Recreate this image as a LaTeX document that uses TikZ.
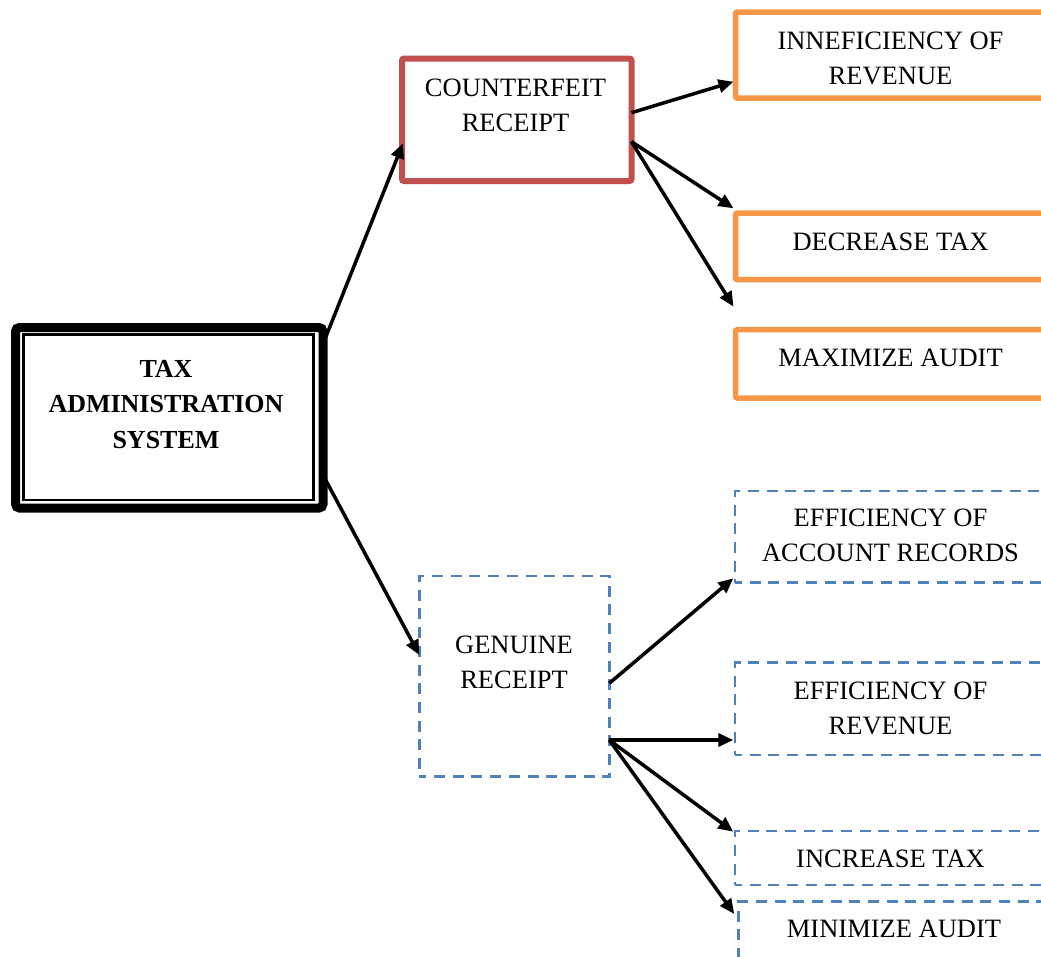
\documentclass[tikz,border=0pt]{standalone}
\usepackage{fontspec}
\setmainfont{Liberation Serif}
\usetikzlibrary{arrows.meta}
\definecolor{cfred}{HTML}{C0504D}
\definecolor{orng}{HTML}{F79646}
\definecolor{blu}{HTML}{4F81BD}
\newcommand{\twolines}[2]{\begin{tabular}[t]{@{}c@{}}#1\\#2\end{tabular}}
\begin{document}
\begin{tikzpicture}[x=1pt,y=1pt,
  box/.style={draw,rectangle,inner sep=0pt,outer sep=0pt},
  mainbox/.style={box,line width=9pt,rounded corners=4pt},
  redbox/.style={box,draw=cfred,line width=6pt,rounded corners=2pt},
  orbox/.style={box,draw=orng,line width=5.5pt,rounded corners=2pt,minimum width=309.5pt},
  bluebox/.style={box,draw=blu,line width=2.7pt,dash pattern=on 11pt off 7.7pt,dash phase=4pt},
  lbl/.style={anchor=base,inner sep=0pt,font=\fontsize{26.5}{35}\selectfont},
  arr/.style={line width=3.5pt,-{Triangle[length=15pt,width=13pt]}}
]
\path[use as bounding box] (0,0) rectangle (1041,-956);
\clip (0,0) rectangle (1041,-956);
% boxes
\node[mainbox,minimum width=307.5pt,minimum height=180.5pt] (main) at (169.25,-417.75) {};
\draw[line width=2.5pt] ([shift={(8,-7)}]main.north west) rectangle ([shift={(-9.5,8)}]main.south east);
\node[redbox,minimum width=229.5pt,minimum height=122.5pt] (cf) at (516.75,-119.75) {};
\node[orbox,minimum height=86pt] (o1) at (890.25,-55) {};
\node[orbox,minimum height=66.7pt] (o2) at (890.25,-246.35) {};
\node[orbox,minimum height=68.3pt] (o3) at (890.25,-363.85) {};
\node[bluebox,minimum width=190pt,minimum height=200.7pt] (gen) at (514.3,-676.35) {};
\node[bluebox,minimum width=310pt,minimum height=91.7pt] (b1) at (890,-536.85) {};
\node[bluebox,minimum width=310pt,minimum height=92.3pt] (b2) at (890,-708.85) {};
\node[bluebox,minimum width=310pt,minimum height=54pt] (b3) at (890,-858) {};
\node[bluebox,minimum width=309.7pt,minimum height=78.3pt] (b4) at (893.15,-940.85) {};
% labels
\node[lbl,font=\fontsize{26}{35.5}\selectfont\bfseries] (tmain) at (166,-377) {\begin{tabular}[t]{@{}c@{}}TAX\\ADMINISTRATION\\SYSTEM\end{tabular}};
\node[lbl] (tcf) at (515.5,-96) {\twolines{COUNTERFEIT}{RECEIPT}};
\node[lbl] (to1) at (890.5,-49.5) {\twolines{INNEFICIENCY OF}{REVENUE}};
\node[lbl] (to2) at (890.5,-250.7) {DECREASE TAX};
\node[lbl] (to3) at (890.5,-366.7) {MAXIMIZE AUDIT};
\node[lbl] (tgen) at (514,-653.3) {\twolines{GENUINE}{RECEIPT}};
\node[lbl] (tb1) at (890.5,-526.7) {\twolines{EFFICIENCY OF}{ACCOUNT RECORDS}};
\node[lbl] (tb2) at (890.5,-699.3) {\twolines{EFFICIENCY OF}{REVENUE}};
\node[lbl] (tb3) at (890.5,-867.3) {INCREASE TAX};
\node[lbl] (tb4) at (894,-937.3) {MINIMIZE AUDIT};
% connectors
\draw[arr] ([yshift=-16.5]main.north east) -- ([shift={(1,-84.8)}]cf.north west);
\draw[arr] ([yshift=33]main.south east) -- ([yshift=-79]gen.north west);
\draw[arr] ([yshift=-54.2]cf.north east) -- ([shift={(-2,16.3)}]o1.south west);
\draw[arr] ([yshift=-83.2]cf.north east) -- ([shift={(-2,4.7)}]o2.north west);
\draw[arr] ([yshift=-83.2]cf.north east) -- ([shift={(-2,23)}]o3.north west);
\draw[arr] ([yshift=-107.3]gen.north east) -- ([shift={(-1.7,4.4)}]b1.south west);
\draw[arr] ([yshift=-164]gen.north east) -- ([shift={(-1.7,15)}]b2.south west);
\draw[arr] ([yshift=-164]gen.north east) -- ([shift={(-1.7,-0.7)}]b3.north west);
\draw[arr] ([yshift=-164]gen.north east) -- ([shift={(-4,-12.3)}]b4.north west);
\end{tikzpicture}
\end{document}
